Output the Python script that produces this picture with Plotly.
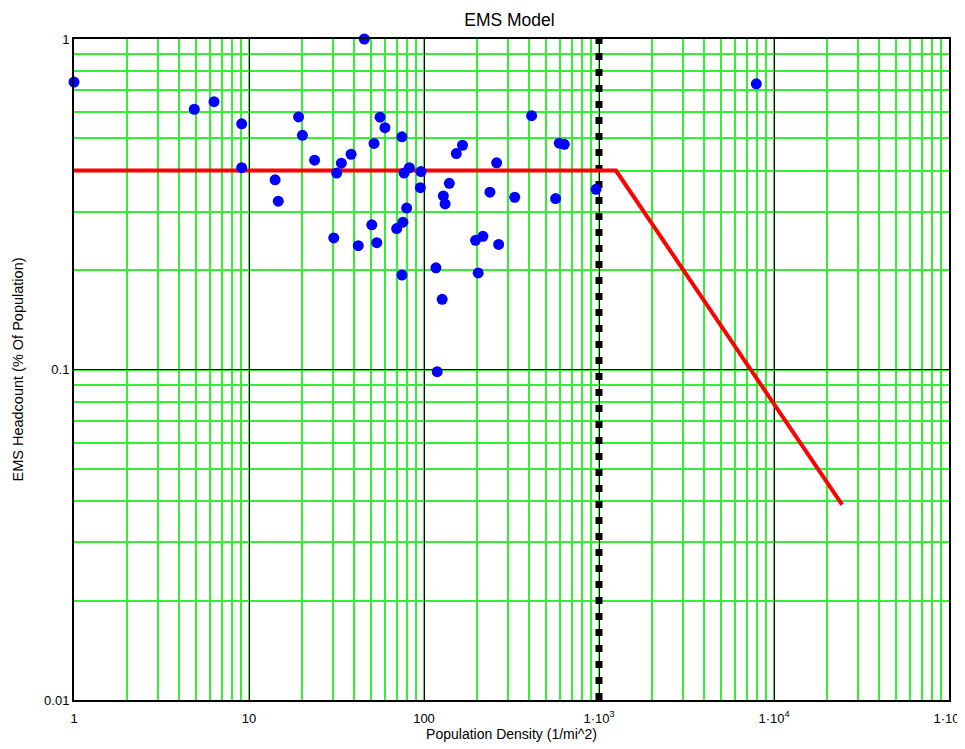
import numpy as np
import plotly.graph_objects as go

# observed counties: population density vs EMS headcount
density = [1.0, 4.87, 6.31, 9.08, 9.08, 14.1, 14.7, 19.2, 20.2, 23.7,
           45.6, 33.7, 31.7, 38.3, 30.5, 42.1, 50.3, 53.7, 51.8, 56.1,
           59.8, 74.8, 76.9, 82.5, 96.1, 95.3, 79.6, 75.8, 69.8, 139.5,
           129, 132, 153, 166, 197, 217, 238, 260, 267, 330,
           412, 565, 593, 633, 961, 74.8, 117, 204, 127, 119,
           7925]
headcount = [0.741, 0.613, 0.646, 0.554, 0.408, 0.375, 0.323, 0.581, 0.511, 0.430,
             1.0, 0.421, 0.393, 0.448, 0.250, 0.237, 0.274, 0.242, 0.483, 0.580,
             0.539, 0.506, 0.393, 0.408, 0.397, 0.355, 0.308, 0.279, 0.267, 0.366,
             0.335, 0.317, 0.450, 0.477, 0.246, 0.253, 0.344, 0.422, 0.239, 0.332,
             0.586, 0.329, 0.484, 0.480, 0.351, 0.193, 0.203, 0.196, 0.163, 0.0985,
             0.732]

# piecewise model line
model_x = [1, 1250, 24500]
model_y = [0.4, 0.4, 0.039]

# threshold marker
threshold_x = [1000, 1000]
threshold_y = [0.01, 1]

x_tickvals = [1, 10, 100, 1000, 10000, 100000]
x_ticktext = ["1", "10", "100", "1\u00b710<sup>3</sup>", "1\u00b710<sup>4</sup>",
              "1\u00b710<sup>5</sup>"]
y_tickvals = [0.01, 0.1, 1]
y_ticktext = ["0.01", "0.1", "1"]

fig = go.Figure()
fig.add_trace(go.Scatter(x=threshold_x, y=threshold_y, mode="lines",
                         line=dict(color="black", width=7, dash="7px,9px"),
                         hoverinfo="skip"))
fig.add_trace(go.Scatter(x=model_x, y=model_y, mode="lines",
                         line=dict(color="#ff0000", width=4)))
fig.add_trace(go.Scatter(x=density, y=headcount, mode="markers",
                         marker=dict(color="#0000ff", size=11),
                         cliponaxis=False))

font = "Arial, Liberation Sans, sans-serif"
grid_green = "#33f033"
fig.update_xaxes(type="log", range=[0, 5], tickvals=x_tickvals, ticktext=x_ticktext,
                 showgrid=True, gridcolor="black", gridwidth=1,
                 minor=dict(dtick="D1", showgrid=True, gridcolor=grid_green, gridwidth=1.5),
                 showline=True, linecolor="black", linewidth=2, mirror=True,
                 ticks="", ticklabelstandoff=5, zeroline=False, automargin=False,
                 title=dict(text="Population Density (1/mi^2)", standoff=5,
                            font=dict(size=14, color="black")),
                 tickfont=dict(size=13, color="black"))
fig.update_yaxes(type="log", range=[-2, 0], tickvals=y_tickvals, ticktext=y_ticktext,
                 showgrid=True, gridcolor="black", gridwidth=1,
                 minor=dict(dtick="D1", showgrid=True, gridcolor=grid_green, gridwidth=1.5),
                 showline=True, linecolor="black", linewidth=2, mirror=True,
                 ticks="", zeroline=False, automargin=False,
                 title=dict(text="EMS Headcount (% Of Population)", standoff=17,
                            font=dict(size=14.5, color="black")),
                 tickfont=dict(size=13, color="black"))
# the page body adds an 8px offset, so margins are shifted to compensate
fig.update_layout(width=957, height=749, showlegend=False,
                  paper_bgcolor="white", plot_bgcolor="white",
                  font=dict(family=font, color="black"),
                  title=dict(text="EMS Model", x=0.524, xanchor="center", y=0.984,
                             yanchor="middle", font=dict(size=17.5, color="black")),
                  margin=dict(l=66, r=16, t=31, b=57))

fig.write_html("out.html")
